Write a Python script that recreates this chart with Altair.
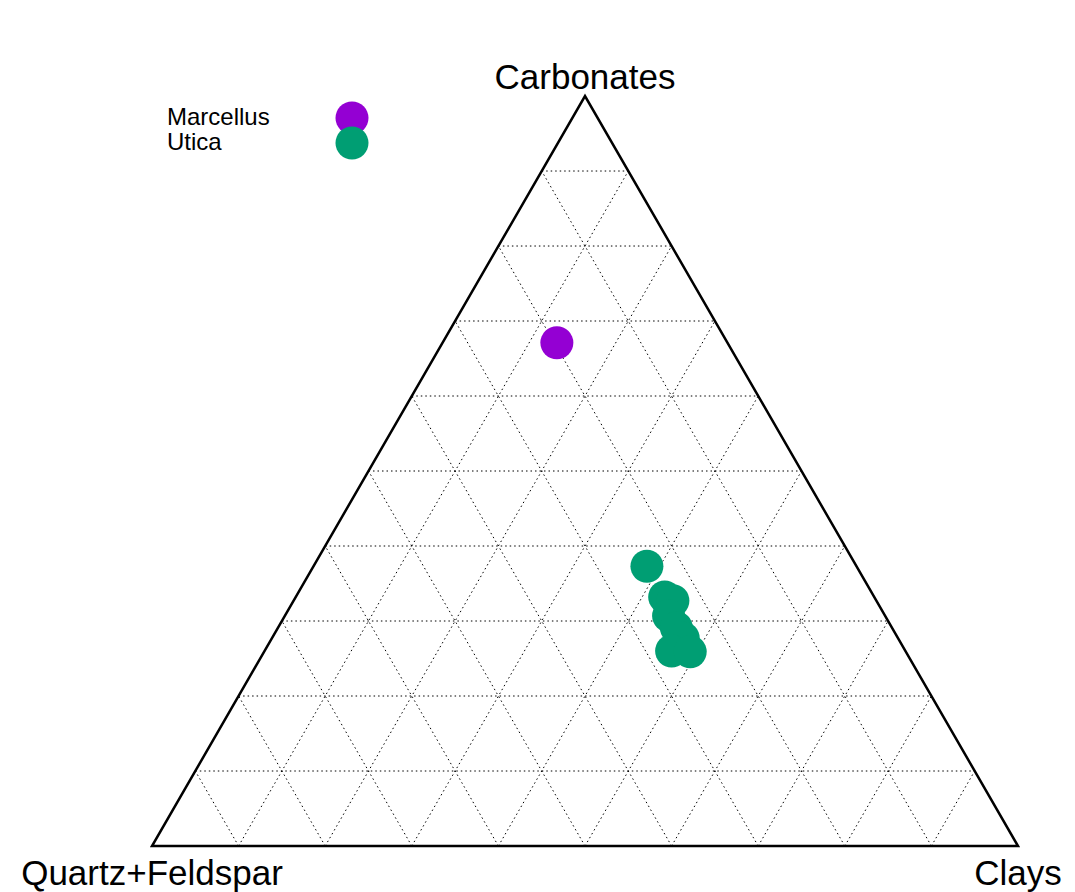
import altair as alt
import pandas as pd

# ---- data (percent) ----
formation = ["Marcellus", "Utica", "Utica", "Utica", "Utica", "Utica", "Utica", "Utica", "Utica"]
carbonates = [67.1, 37.3, 33.2, 32.7, 30.7, 29.1, 27.7, 26.0, 25.9]
clays = [13.2, 38.5, 42.6, 43.8, 44.3, 46.0, 47.5, 47.0, 49.2]
quartz_feldspar = [19.7, 24.2, 24.2, 23.5, 25.0, 24.9, 24.8, 27.0, 24.9]

series_names = ["Marcellus", "Utica"]
series_colors = ["#9400D3", "#009E73"]

corner_names = ["Carbonates", "Quartz+Feldspar", "Clays"]
corner_carb = [100, 0, 0]
corner_clay = [0, 0, 100]
corner_qf = [0, 100, 0]

grid_ticks = [10, 20, 30, 40, 50, 60, 70, 80, 90]
grid_axes = ["C", "R", "Q"]

# outline path (start mid-bottom so every corner is a mitred join)
outline_carb = [0, 0, 100, 0, 0]
outline_clay = [50, 100, 0, 0, 50]
outline_qf = [50, 0, 0, 100, 50]

# ---- tables ----
pts = pd.DataFrame({"Formation": formation, "C": carbonates, "R": clays, "Q": quartz_feldspar})
corners = pd.DataFrame({"name": corner_names, "C": corner_carb, "R": corner_clay, "Q": corner_qf})
outline = pd.DataFrame({"o": list(range(len(outline_carb))), "C": outline_carb, "R": outline_clay, "Q": outline_qf})
grid = pd.DataFrame([{"axis": a, "t": t / 100} for a in grid_axes for t in grid_ticks])

S = "sqrt(3)/2"
to_u = "(datum.R + datum.C/2)/(datum.C + datum.R + datum.Q)"
to_v = f"datum.C/(datum.C + datum.R + datum.Q)*{S}"

xs = alt.Scale(domain=[-0.166282, 1.056582], nice=False, zero=False)
ys = alt.Scale(domain=[-0.053118, 0.967667], nice=False, zero=False)

X = lambda f: alt.X(f, type="quantitative", scale=xs, axis=None)
Y = lambda f: alt.Y(f, type="quantitative", scale=ys, axis=None)

gridlines = alt.Chart(grid).transform_calculate(
    u1="datum.axis=='C' ? datum.t/2 : (datum.axis=='R' ? datum.t : 1-datum.t)",
    v1=f"datum.axis=='C' ? datum.t*{S} : 0",
    u2="datum.axis=='C' ? 1-datum.t/2 : (datum.axis=='R' ? (1+datum.t)/2 : (1-datum.t)/2)",
    v2=f"datum.axis=='C' ? datum.t*{S} : (1-datum.t)*{S}",
).mark_rule(color="black", strokeWidth=1, strokeDash=[1.5, 3]).encode(
    x=X("u1"), y=Y("v1"), x2="u2:Q", y2="v2:Q"
)

border = alt.Chart(outline).transform_calculate(u=to_u, v=to_v).mark_line(
    color="black", strokeWidth=2.5, strokeJoin="miter"
).encode(x=X("u"), y=Y("v"), order="o:Q")


def series_layer(i, legend_y):
    name = series_names[i]
    return alt.Chart(pts).transform_filter(alt.datum.Formation == name).transform_calculate(
        u=to_u, v=to_v
    ).mark_circle(size=1089, opacity=1).encode(
        x=X("u"),
        y=Y("v"),
        color=alt.Color(
            "Formation:N",
            scale=alt.Scale(domain=[name], range=[series_colors[i]]),
            legend=alt.Legend(
                orient="none",
                legendX=327.5,
                legendY=legend_y,
                title=None,
                symbolType="circle",
                symbolSize=1089,
                symbolStrokeWidth=0,
                symbolOpacity=1,
                labelFontSize=24,
                labelFont="Liberation Sans",
                labelColor="black",
                labelOffset={"expr": "-201.5"},
                padding=0,
            ),
        ),
    )


marcellus = series_layer(0, 93.5)
utica = series_layer(1, 118.5)

top_label = alt.Chart(corners).transform_filter("datum.C == 100").transform_calculate(
    u=to_u, v=to_v
).mark_text(font="Liberation Sans", fontSize=35, color="black", align="center", baseline="alphabetic", dy=-7).encode(
    x=X("u"), y=Y("v"), text="name:N"
)

bottom_labels = alt.Chart(corners).transform_filter("datum.C == 0").transform_calculate(
    u=to_u, v=to_v
).mark_text(font="Liberation Sans", fontSize=35, color="black", align="center", baseline="alphabetic", dy=39).encode(
    x=X("u"), y=Y("v"), text="name:N"
)

chart = alt.layer(gridlines, border, marcellus, utica, top_label, bottom_labels).resolve_scale(
    color="independent"
).resolve_legend(color="independent").properties(
    width=1059, height=884, padding=0, autosize="none"
).configure_view(stroke=None)

chart.save("out.html", embed_options={"renderer": "svg", "actions": False})
